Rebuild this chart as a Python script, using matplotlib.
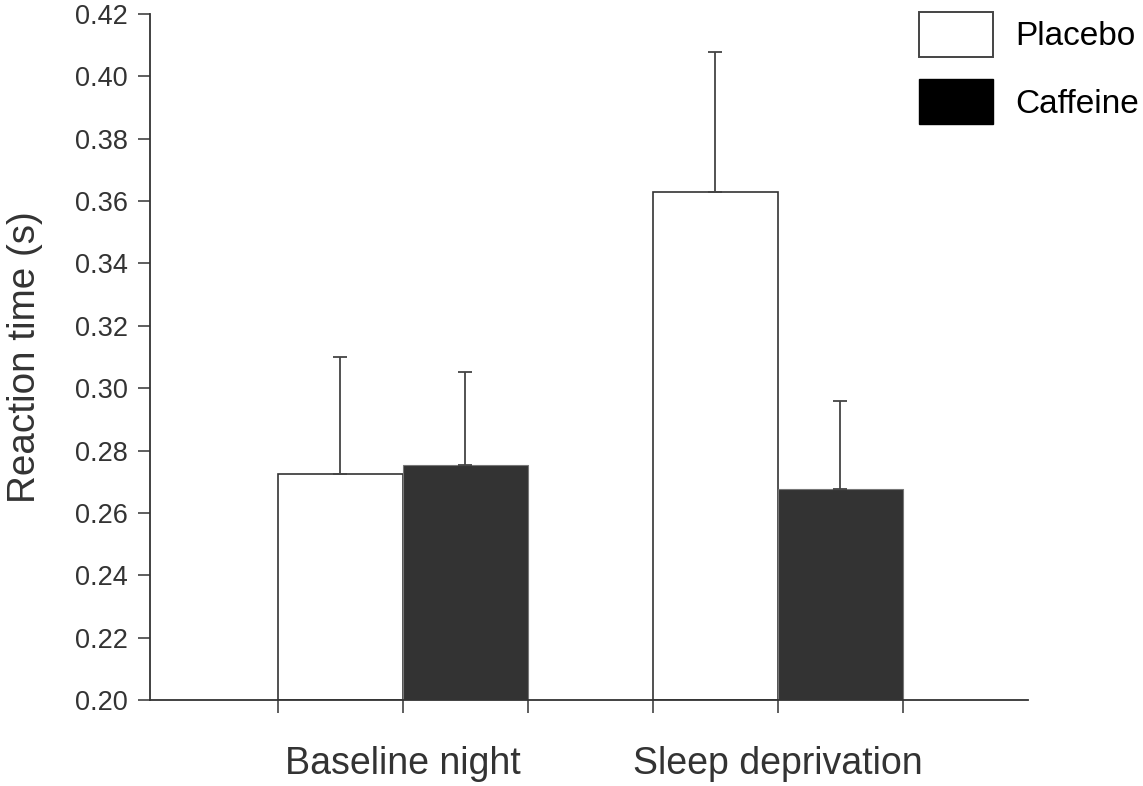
import numpy as np
import matplotlib
matplotlib.use("Agg")
import matplotlib.pyplot as plt
from matplotlib.patches import Patch

plt.rcParams["font.family"] = ["Liberation Sans", "DejaVu Sans"]

# ── data ──────────────────────────────────────────────────────────────────────
CONDITIONS   = ["Baseline night", "Sleep deprivation"]
PLACEBO      = [0.2725, 0.3628]
PLACEBO_ERR  = [0.0375, 0.0450]
CAFFEINE     = [0.2754, 0.2677]
CAFFEINE_ERR = [0.0298, 0.0283]
Y_TICKS      = [0.20, 0.22, 0.24, 0.26, 0.28, 0.30, 0.32, 0.34, 0.36, 0.38, 0.40, 0.42]

DARK = "#333333"

fig = plt.figure(figsize=(11.43, 7.86), dpi=100)
ax = fig.add_axes([150 / 1143, 1 - 700 / 786, 878 / 1143, 686 / 786])

x = np.arange(len(CONDITIONS))
w = 1 / 3

zeros = np.zeros(len(x))
ax.bar(x - w / 2, np.array(PLACEBO) - 0.20, width=w, bottom=0.20,
       color="white", edgecolor=DARK, linewidth=1.2,
       yerr=[zeros, PLACEBO_ERR], capsize=4.8,
       error_kw={"elinewidth": 1.3, "ecolor": "#444444", "capthick": 1.3})
ax.bar(x + w / 2, np.array(CAFFEINE) - 0.20, width=w, bottom=0.20,
       color=DARK, edgecolor="#777777", linewidth=0.8,
       yerr=[zeros, CAFFEINE_ERR], capsize=4.8,
       error_kw={"elinewidth": 1.3, "ecolor": "#444444", "capthick": 1.3})

ax.set_xlim((150 - 403) / 375, (1028 - 403) / 375)
ax.set_ylim(0.20, 0.42)

# ticks sit on the bar edges
edges = sorted(set(np.concatenate([x - w, x, x + w])))
ax.set_xticks(edges)
ax.set_xticklabels([])
ax.set_yticks(Y_TICKS)
ax.set_yticklabels([f"{t:.2f}" for t in Y_TICKS])

for xc, name in zip(x, CONDITIONS):
    ax.text(xc, -0.094, name, transform=ax.get_xaxis_transform(),
            ha="center", va="center", fontsize=27, color=DARK)

ax.set_ylabel("Reaction time (s)", fontsize=27.8, color=DARK, labelpad=23)

for side in ["top", "right"]:
    ax.spines[side].set_visible(False)
for side in ["left", "bottom"]:
    ax.spines[side].set_color(DARK)
    ax.spines[side].set_linewidth(1.3)
ax.tick_params(axis="both", length=9, width=1.1, color=DARK,
               labelsize=19.5, labelcolor=DARK, pad=7)

handles = [
    Patch(facecolor="white", edgecolor="#444444", linewidth=1.4, label="Placebo"),
    Patch(facecolor="black", edgecolor="black", label="Caffeine"),
]
fig.legend(handles=handles, loc="upper left",
           bbox_to_anchor=(919 / 1143, 1 - 12 / 786),
           frameon=False, fontsize=24, borderpad=0, borderaxespad=0,
           handlelength=2.22, handleheight=1.7, labelspacing=0.67,
           handletextpad=0.66)

fig.savefig("out.png", dpi=100)
